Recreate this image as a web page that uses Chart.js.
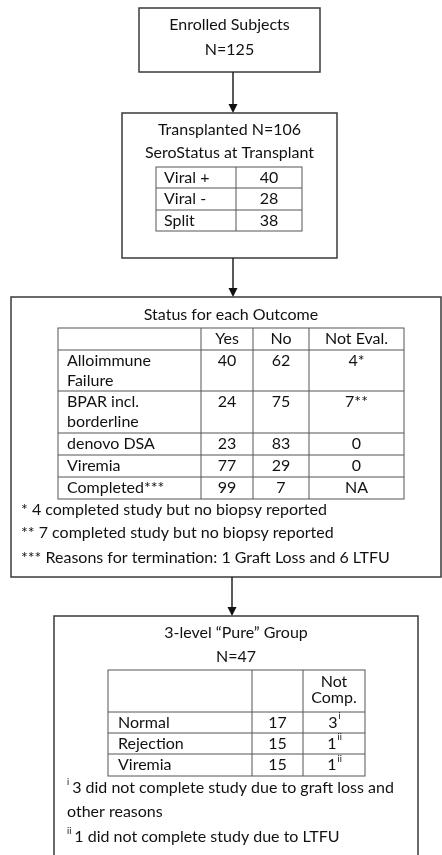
<!DOCTYPE html>
<html>
<head>
<meta charset="utf-8">
<script src="https://cdn.jsdelivr.net/npm/chart.js@4.4.1/dist/chart.umd.min.js"></script>
<style>
html,body{margin:0;padding:0;background:#fff;}
#wrap{width:442px;height:855px;}
</style>
</head>
<body>
<div id="wrap"><canvas id="c" width="442" height="855"></canvas></div>
<script>
// ---- data ----
const enrolledN = 125;
const transplantedN = 106;
const seroCategories = ['Viral +', 'Viral -', 'Split'];
const seroCounts = [40, 28, 38];
const outcomeColumns = ['Yes', 'No', 'Not Eval.'];
const outcomeCategories = [['Alloimmune', 'Failure'], ['BPAR incl.', 'borderline'], ['denovo DSA'], ['Viremia'], ['Completed***']];
const outcomeYes = [40, 24, 23, 77, 99];
const outcomeNo = [62, 75, 83, 29, 7];
const outcomeNotEval = ['4*', '7**', '0', '0', 'NA'];
const outcomeNotes = ['* 4 completed study but no biopsy reported',
  '** 7 completed study but no biopsy reported',
  '*** Reasons for termination: 1 Graft Loss and 6 LTFU'];
const pureN = 47;
const pureColumns = ['', ['Not', 'Comp.']];
const pureCategories = ['Normal', 'Rejection', 'Viremia'];
const pureCounts = [17, 15, 15];
const pureNotComp = [3, 1, 1];
const pureNotCompMark = ['i', 'ii', 'ii'];
const pureNotes = [['i', '3 did not complete study due to graft loss and'], ['', 'other reasons'], ['ii', '1 did not complete study due to LTFU']];

const FONT = 'Lato, "Open Sans", sans-serif';
const FS = 16;
const TXT = '#111';
const BOX = '#3a3a3a';
const GRID = '#555';

const flowPlugin = {
  id: 'flow',
  afterDraw(chart) {
    const ctx = chart.ctx;
    const xs = chart.scales.x, ys = chart.scales.y;
    const X = v => xs.getPixelForValue(v);
    const Y = v => ys.getPixelForValue(v);
    ctx.save();
    function rect(x0, y0, x1, y1, col, lw) {
      ctx.strokeStyle = col; ctx.lineWidth = lw;
      ctx.strokeRect(X(x0), Y(y0), X(x1) - X(x0), Y(y1) - Y(y0));
    }
    function hline(x0, x1, y, col, lw) {
      ctx.strokeStyle = col; ctx.lineWidth = lw;
      ctx.beginPath(); ctx.moveTo(X(x0), Y(y)); ctx.lineTo(X(x1), Y(y)); ctx.stroke();
    }
    function vline(x, y0, y1, col, lw) {
      ctx.strokeStyle = col; ctx.lineWidth = lw;
      ctx.beginPath(); ctx.moveTo(X(x), Y(y0)); ctx.lineTo(X(x), Y(y1)); ctx.stroke();
    }
    function text(s, x, y, align, size) {
      ctx.fillStyle = TXT;
      ctx.font = (size || FS) + 'px ' + FONT;
      ctx.textAlign = align || 'center';
      ctx.textBaseline = 'middle';
      ctx.fillText(String(s), X(x), Y(y));
    }
    function textSup(s, sup, x, y) {
      ctx.font = FS + 'px ' + FONT;
      const w = ctx.measureText(String(s)).width;
      ctx.font = '9px ' + FONT;
      const ws = ctx.measureText(sup).width;
      const start = X(x) - (w + ws) / 2;
      ctx.fillStyle = TXT;
      ctx.textAlign = 'left'; ctx.textBaseline = 'middle';
      ctx.font = FS + 'px ' + FONT;
      ctx.fillText(String(s), start, Y(y));
      ctx.font = '9px ' + FONT;
      ctx.fillText(sup, start + w + 1, Y(y) - 6);
    }
    function arrow(x, y0, y1) {
      vline(x, y0, y1 - 6, '#222', 1.5);
      ctx.fillStyle = '#111';
      ctx.beginPath();
      ctx.moveTo(X(x) - 4.5, Y(y1) - 9);
      ctx.lineTo(X(x) + 4.5, Y(y1) - 9);
      ctx.lineTo(X(x), Y(y1));
      ctx.closePath(); ctx.fill();
    }

    // Box 1
    rect(139, 8, 320, 72, BOX, 1.5);
    text('Enrolled Subjects', 229.5, 25);
    text('N=' + enrolledN, 229.5, 50);
    arrow(233, 72, 113);

    // Box 2
    rect(122, 113, 337, 258, BOX, 1.5);
    text('Transplanted N=' + transplantedN, 229.5, 130);
    text('SeroStatus at Transplant', 229.5, 153);
    const sRows = [167, 188, 210, 231];
    rect(156, sRows[0], 302, sRows[3], GRID, 1);
    vline(236, sRows[0], sRows[3], GRID, 1);
    for (let i = 1; i < 3; i++) hline(156, 302, sRows[i], GRID, 1);
    seroCategories.forEach((c, i) => {
      const yc = (sRows[i] + sRows[i + 1]) / 2;
      text(c, 164, yc, 'left');
      text(seroCounts[i], 269, yc);
    });
    arrow(233, 258, 297);

    // Box 3
    rect(11, 297, 441, 577, BOX, 1.5);
    text('Status for each Outcome', 231, 315);
    const oCols = [58, 201, 253, 309, 404];
    const oRows = [328, 350, 391, 433, 455, 477, 499];
    rect(oCols[0], oRows[0], oCols[4], oRows[6], GRID, 1);
    for (let j = 1; j < 4; j++) vline(oCols[j], oRows[0], oRows[6], GRID, 1);
    for (let i = 1; i < 6; i++) hline(oCols[0], oCols[4], oRows[i], GRID, 1);
    outcomeColumns.forEach((h, j) => text(h, (oCols[j + 1] + oCols[j + 2]) / 2, 339));
    outcomeCategories.forEach((lines, i) => {
      const top = oRows[i + 1];
      const y1 = top + 11;
      lines.forEach((ln, k) => text(ln, 67, y1 + k * 20, 'left'));
      text(outcomeYes[i], (oCols[1] + oCols[2]) / 2, y1);
      text(outcomeNo[i], (oCols[2] + oCols[3]) / 2, y1);
      text(outcomeNotEval[i], (oCols[3] + oCols[4]) / 2, y1);
    });
    outcomeNotes.forEach((n, i) => text(n, 21, [510, 533, 558][i], 'left'));
    arrow(232, 577, 616);

    // Box 4
    rect(54, 616, 418, 870, BOX, 1.5);
    text('3-level \u201CPure\u201D Group', 236, 633);
    text('N=' + pureN, 236, 657);
    const pCols = [108, 252, 303, 365];
    const pRows = [670, 712, 733, 754, 776];
    rect(pCols[0], pRows[0], pCols[3], pRows[4], GRID, 1);
    for (let j = 1; j < 3; j++) vline(pCols[j], pRows[0], pRows[4], GRID, 1);
    for (let i = 1; i < 4; i++) hline(pCols[0], pCols[3], pRows[i], GRID, 1);
    pureColumns[1].forEach((h, k) => text(h, (pCols[2] + pCols[3]) / 2, 682 + k * 16));
    pureCategories.forEach((c, i) => {
      const yc = (pRows[i + 1] + pRows[i + 2]) / 2;
      text(c, 118, yc, 'left');
      text(pureCounts[i], (pCols[1] + pCols[2]) / 2, yc);
      textSup(pureNotComp[i], pureNotCompMark[i], (pCols[2] + pCols[3]) / 2, yc);
    });
    pureNotes.forEach((n, i) => {
      const y = [788, 812, 837][i];
      let x = X(67);
      if (n[0]) {
        ctx.font = '9px ' + FONT; ctx.fillStyle = TXT; ctx.textAlign = 'left'; ctx.textBaseline = 'middle';
        ctx.fillText(n[0], x, Y(y) - 6);
        x += ctx.measureText(n[0]).width + 3;
      }
      ctx.font = FS + 'px ' + FONT; ctx.textAlign = 'left'; ctx.textBaseline = 'middle';
      ctx.fillText(n[1], x, Y(y));
    });
    ctx.restore();
  }
};

new Chart(document.getElementById('c'), {
  type: 'scatter',
  data: { datasets: [{ data: [], pointRadius: 0 }] },
  options: {
    responsive: false,
    animation: false,
    events: [],
    layout: { padding: 0 },
    plugins: { legend: { display: false }, tooltip: { enabled: false }, title: { display: false } },
    scales: {
      x: { type: 'linear', min: 0, max: 442, display: false },
      y: { type: 'linear', min: 0, max: 855, reverse: true, display: false }
    }
  },
  plugins: [flowPlugin]
});
</script>
</body>
</html>
